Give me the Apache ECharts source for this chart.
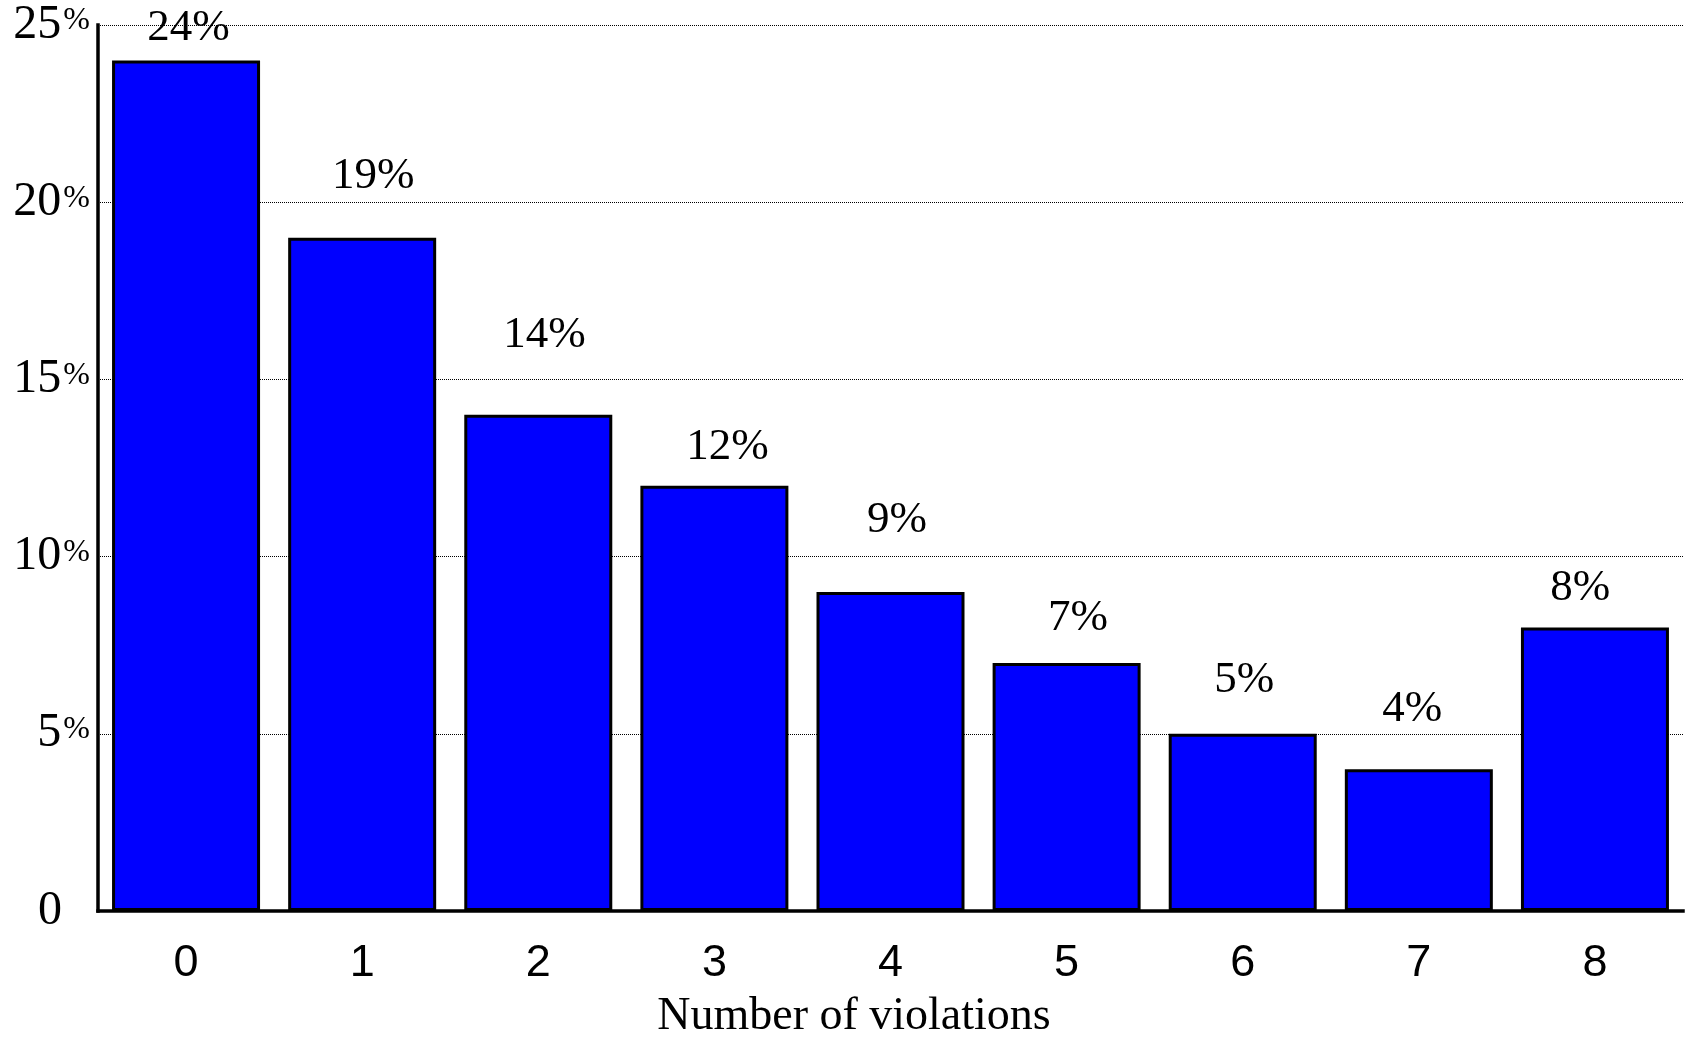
<!DOCTYPE html>
<html>
<head>
<meta charset="utf-8">
<style>
  html, body { margin: 0; padding: 0; background: #ffffff; }
  #chart { width: 1691px; height: 1038px; }
</style>
<script src="https://cdn.jsdelivr.net/npm/echarts@6/dist/echarts.min.js"></script>
</head>
<body>
<div id="chart"></div>
<script>
// Share of records by number of violations
const categories = ['0', '1', '2', '3', '4', '5', '6', '7', '8'];
const shares = [24, 19, 14, 12, 9, 7, 5, 4, 8];
const yTicks = [0, 5, 10, 15, 20, 25];
const axisTitle = 'Number of violations';

// Hand-placed value labels: horizontal nudge and gap above each bar (px)
const labelDx = [2.5, 11, 6.3, 13.2, 6.6, 11.5, 1.4, -6.7, -14.8];
const labelGap = [9.5, 38.5, 57.5, 16.5, 49.5, 22.5, 31.5, 37.5, 16.5];

const SERIF = '"Liberation Serif", "Times New Roman", serif';
const SANS = '"Liberation Sans", Arial, sans-serif';

const chart = echarts.init(document.getElementById('chart'), null, { renderer: 'canvas' });

const barData = shares.map((v, i) => ({
  value: v,
  label: {
    distance: labelGap[i],
    offset: [labelDx[i], 0]
  }
}));

chart.setOption({
  animation: false,
  backgroundColor: '#ffffff',
  grid: { left: 98, right: 8, top: 25, bottom: 127, containLabel: false },
  xAxis: {
    type: 'category',
    data: categories,
    boundaryGap: true,
    axisLine: { show: true, lineStyle: { color: '#000', width: 3.5, cap: 'square' } },
    axisTick: { show: false },
    axisLabel: { color: '#000', fontFamily: SANS, fontSize: 45, margin: 30 },
    splitLine: { show: false }
  },
  yAxis: {
    type: 'value',
    min: yTicks[0],
    max: yTicks[yTicks.length - 1],
    interval: yTicks[1] - yTicks[0],
    axisLine: { show: true, lineStyle: { color: '#000', width: 3.5, cap: 'square' } },
    axisTick: { show: false },
    splitLine: { show: true, lineStyle: { color: '#000', width: 1, type: [1, 1] } },
    axisLabel: {
      margin: 8,
      align: 'right',
      formatter: v => v === 0 ? '{z|0}' : '{n|' + v + '}{p|%}',
      rich: {
        n: { fontFamily: SERIF, fontSize: 48, color: '#000', lineHeight: 48 },
        p: { fontFamily: SERIF, fontSize: 32, color: '#000', lineHeight: 48, verticalAlign: 'top', padding: [4, 0, 0, 2] },
        z: { fontFamily: SERIF, fontSize: 48, color: '#000', lineHeight: 48, padding: [0, 28, 0, 0] }
      }
    }
  },
  series: [{
    type: 'bar',
    data: barData,
    barWidth: 148,
    itemStyle: { color: '#0000ff', borderColor: '#000', borderWidth: 3 },
    label: {
      show: true,
      position: 'top',
      formatter: p => p.value + '%',
      color: '#000',
      fontFamily: SERIF,
      fontSize: 45
    }
  }],
  graphic: [{
    type: 'text',
    x: 854,
    y: 1017,
    style: {
      text: axisTitle,
      font: '46px ' + SERIF,
      fill: '#000',
      align: 'center',
      verticalAlign: 'middle'
    }
  }]
});
</script>
</body>
</html>
